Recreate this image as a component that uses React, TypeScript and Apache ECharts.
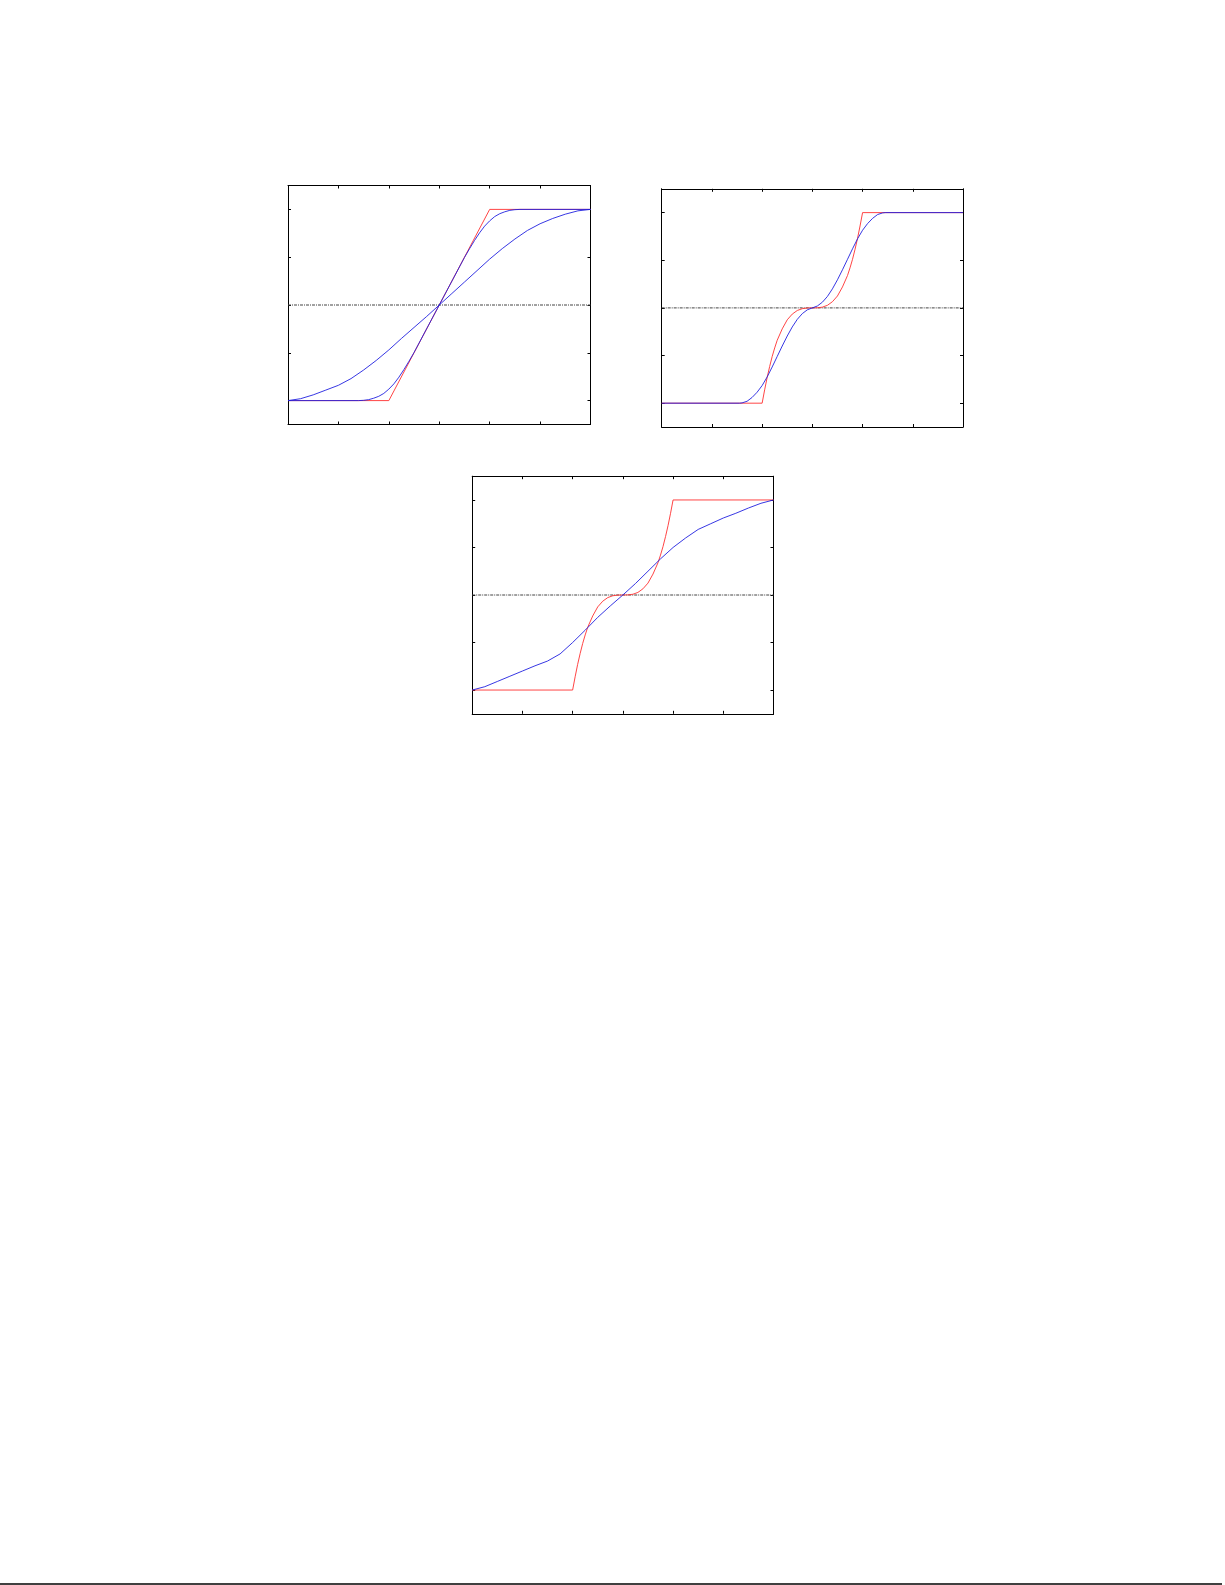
import { useEffect, useRef } from "react";
import * as echarts from "echarts";

// axis limits shared by the three panels
const X_MIN = -3;
const X_MAX = 3;
const Y_MIN = -1.25;
const Y_MAX = 1.25;

// dash-dot zero line
const zeroX = [-3, 3];
const zeroY = [0, 0];

// panel 1: red saturating ramp
const clampX = [-3, -1, 1, 3];
const clampY = [-1, -1, 1, 1];

// panels 2 and 3: red cubic ramp
const cubicX = [-3, -1, -0.95, -0.9, -0.85, -0.8, -0.75, -0.7, -0.6, -0.5, -0.4, -0.3, -0.2, -0.1, 0,
  0.1, 0.2, 0.3, 0.4, 0.5, 0.6, 0.7, 0.75, 0.8, 0.85, 0.9, 0.95, 1, 3];
const cubicY = [-1, -1, -0.86, -0.73, -0.615, -0.51, -0.42, -0.34, -0.22, -0.125, -0.065, -0.027, -0.008, -0.001, 0,
  0.001, 0.008, 0.027, 0.065, 0.125, 0.22, 0.34, 0.42, 0.51, 0.615, 0.73, 0.86, 1, 1];

// x grid for the wide blue curves
const wideX = [-3, -2.75, -2.5, -2.25, -2, -1.75, -1.5, -1.25, -1, -0.75, -0.5, -0.25, 0,
  0.25, 0.5, 0.75, 1, 1.25, 1.5, 1.75, 2, 2.25, 2.5, 2.75, 3];

// panel 1: wide blue curve
const p1WideY = [-1, -0.98, -0.94, -0.89, -0.84, -0.77, -0.68, -0.58, -0.47, -0.35, -0.235, -0.12, 0,
  0.12, 0.24, 0.36, 0.48, 0.59, 0.69, 0.78, 0.85, 0.905, 0.95, 0.985, 1];

// panel 1: tight blue curve
const p1TightX = [-3, -1.6, -1.5, -1.4, -1.3, -1.2, -1.1, -1, -0.9, -0.8, -0.7, -0.6, -0.5, 0,
  0.5, 0.6, 0.7, 0.8, 0.9, 1, 1.1, 1.2, 1.3, 1.4, 1.5, 1.6, 3];
const p1TightY = [-1, -1, -0.997, -0.99, -0.975, -0.955, -0.925, -0.88, -0.825, -0.755, -0.675, -0.588, -0.497, 0,
  0.497, 0.588, 0.675, 0.755, 0.825, 0.88, 0.925, 0.955, 0.975, 0.99, 0.997, 1, 1];

// panel 2: blue curve
const p2BlueX = [-3, -1.45, -1.4, -1.3, -1.2, -1.1, -1, -0.9, -0.8, -0.7, -0.6, -0.5, -0.4, -0.3, -0.2, -0.1, 0,
  0.1, 0.2, 0.3, 0.4, 0.5, 0.6, 0.7, 0.8, 0.9, 1, 1.1, 1.2, 1.3, 1.4, 1.45, 3];
const p2BlueY = [-1, -1, -0.997, -0.98, -0.94, -0.885, -0.815, -0.725, -0.62, -0.51, -0.4, -0.295, -0.2, -0.12, -0.06, -0.02, 0,
  0.02, 0.06, 0.12, 0.2, 0.295, 0.4, 0.51, 0.62, 0.725, 0.815, 0.885, 0.94, 0.98, 0.997, 1, 1];

// panel 3: blue curve (on wideX)
const p3BlueY = [-1, -0.965, -0.91, -0.855, -0.8, -0.745, -0.695, -0.62, -0.5, -0.37, -0.235, -0.115, 0,
  0.12, 0.25, 0.38, 0.5, 0.6, 0.69, 0.75, 0.81, 0.86, 0.915, 0.965, 1];

const zip = (xs: number[], ys: number[]) => xs.map((x, i) => [x, ys[i]]);

const RED = "#ff3030";
const BLUE = "#2020e0";

// grid boxes in page pixels
const boxes = [
  { left: 288, top: 185.5, width: 302.5, height: 239 },
  { left: 661.7, top: 188.8, width: 301.3, height: 238.2 },
  { left: 472.2, top: 476.2, width: 301.3, height: 237.6 },
];

const panelLines = [
  [
    { d: zip(clampX, clampY), color: RED },
    { d: zip(wideX, p1WideY), color: BLUE },
    { d: zip(p1TightX, p1TightY), color: BLUE },
  ],
  [
    { d: zip(cubicX, cubicY), color: RED },
    { d: zip(p2BlueX, p2BlueY), color: BLUE },
  ],
  [
    { d: zip(cubicX, cubicY), color: RED },
    { d: zip(wideX, p3BlueY), color: BLUE },
  ],
];

const App = () => {
  const chartRef = useRef<HTMLDivElement>(null);

  useEffect(() => {
    if (!chartRef.current) return;
    const chart = echarts.init(chartRef.current, null, { renderer: "svg" });

    const axisBase = {
      type: "value",
      axisLine: { show: true, onZero: false, lineStyle: { color: "#000", width: 1 } },
      axisTick: { show: true, inside: true, length: 3, lineStyle: { color: "#000", width: 1 } },
      axisLabel: { show: false },
      splitLine: { show: false },
    };

    const xAxis: any[] = [];
    const yAxis: any[] = [];
    const series: any[] = [];

    boxes.forEach((_, i) => {
      ["bottom", "top"].forEach((pos) => {
        xAxis.push({ ...axisBase, gridIndex: i, position: pos, min: X_MIN, max: X_MAX, interval: 1 });
      });
      ["left", "right"].forEach((pos) => {
        yAxis.push({ ...axisBase, gridIndex: i, position: pos, min: Y_MIN, max: Y_MAX, splitNumber: 5 });
      });
      // zero line
      series.push({
        type: "line",
        xAxisIndex: i * 2,
        yAxisIndex: i * 2,
        data: zip(zeroX, zeroY),
        symbol: "none",
        silent: true,
        lineStyle: { color: "#444", width: 1, type: [3, 1, 1, 1] },
      });
      panelLines[i].forEach((ln) => {
        series.push({
          type: "line",
          xAxisIndex: i * 2,
          yAxisIndex: i * 2,
          data: ln.d,
          symbol: "none",
          silent: true,
          lineStyle: { color: ln.color, width: 0.9 },
        });
      });
    });

    chart.setOption({
      animation: false,
      backgroundColor: "#fff",
      grid: boxes.map((b) => ({ ...b, containLabel: false })),
      xAxis,
      yAxis,
      series,
      graphic: [
        {
          type: "line",
          shape: { x1: 0, y1: 1584, x2: 1222, y2: 1584 },
          style: { stroke: "#000", lineWidth: 1.5 },
          silent: true,
        },
      ],
    });

    return () => {
      chart.dispose();
    };
  }, []);

  return (
    <div
      ref={chartRef}
      style={{ position: "absolute", left: 0, top: 0, width: 1225, height: 1585 }}
    />
  );
};

export default App;
